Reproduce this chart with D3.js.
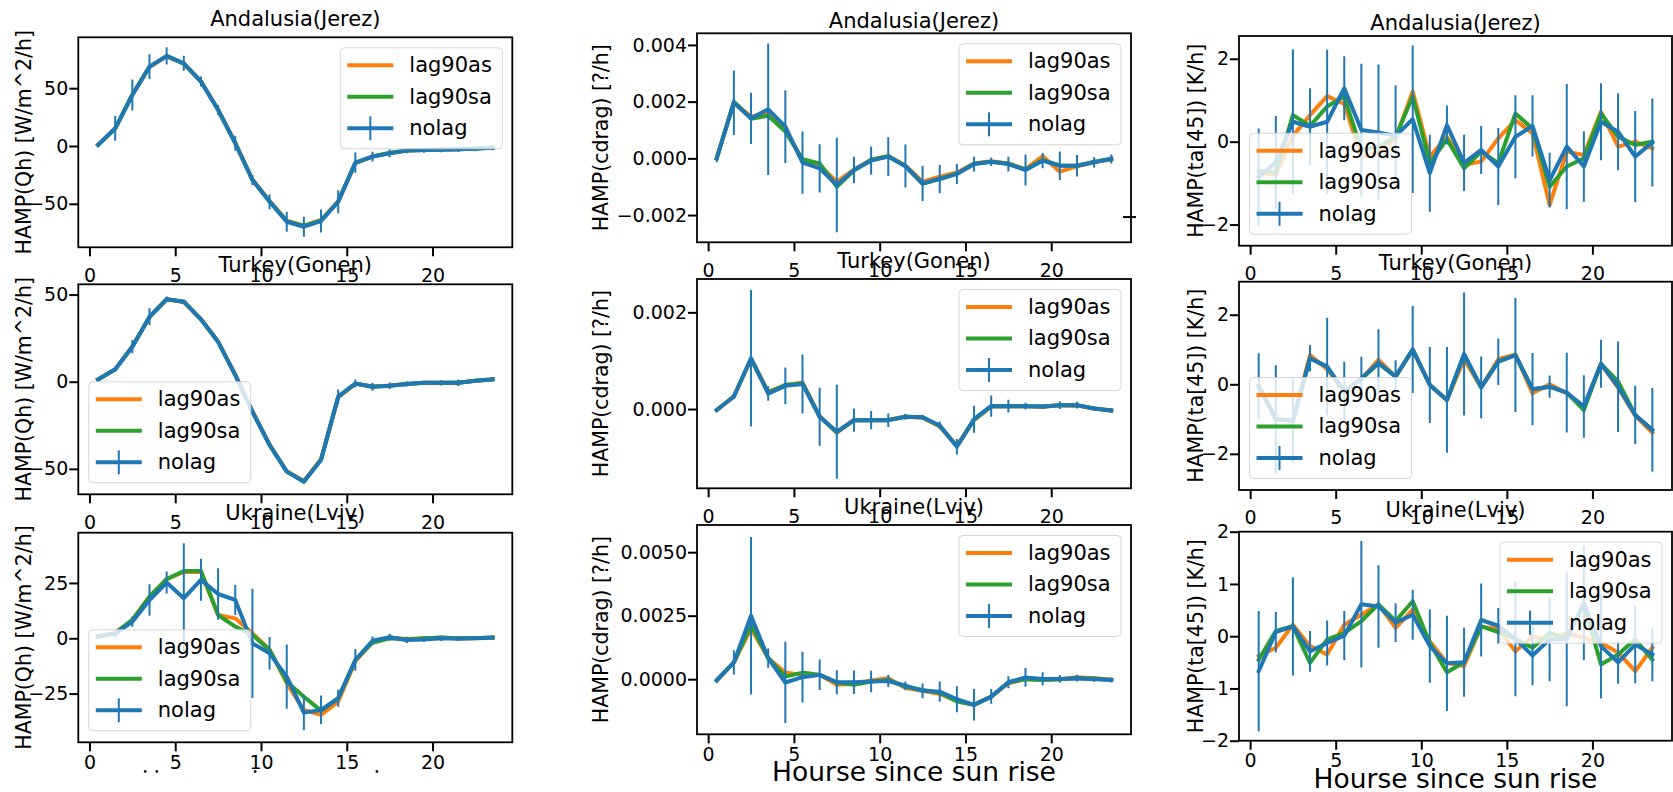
<!DOCTYPE html>
<html><head><meta charset="utf-8">
<script src="https://cdn.jsdelivr.net/npm/d3@7"></script>
<style>
body{margin:0;background:#fff;}
svg{display:block;font-family:"DejaVu Sans",sans-serif;}
</style>
</head><body>
<script>
// ---------------- DATA ----------------
const hours = [0.5,1.5,2.5,3.5,4.5,5.5,6.5,7.5,8.5,9.5,10.5,11.5,12.5,13.5,14.5,15.5,16.5,17.5,18.5,19.5,20.5,21.5,22.5,23.5];
const siteTitles = ["Andalusia(Jerez)","Turkey(Gonen)","Ukraine(Lviv)"];
const varLabels = ["HAMP(Qh) [W/m^2/h]","HAMP(cdrag) [?/h]","HAMP(ta[45]) [K/h]"];
const xAxisLabel = "Hourse since sun rise";
const seriesNames = ["lag90as","lag90sa","nolag"];
const xTicks = [0,5,10,15,20];
const xLimits = [-0.65,24.65];

// Qh
const qhJerezAs    = [1,15.0,44.5,68.2,77.5,71.2,55.9,31.5,2.8,-29.0,-47.5,-64.5,-68.8,-64.0,-47.8,-14.8,-9.0,-6.0,-3.9,-3.4,-3.1,-2.8,-2.2,-1.3];
const qhJerezSa    = [1,15.1,44.3,68.4,77.7,71.3,55.8,31.3,2.6,-29.2,-47.8,-65.0,-69.2,-64.4,-48.0,-14.6,-9.1,-6.1,-4.0,-3.4,-3.1,-2.8,-2.2,-1.3];
const qhJerezNolag = [1,15.3,44.1,68.6,77.9,71.5,55.7,31.1,2.3,-29.4,-48.2,-65.5,-69.8,-64.9,-48.2,-14.4,-9.2,-6.3,-4.0,-3.5,-3.2,-2.9,-2.3,-1.4];
const qhJerezErr   = [1.5,10.7,13.5,10.7,7.5,6.5,4.3,4.3,6.5,4.3,6.5,8.7,8.7,10,10,8.7,4.3,3.5,2.3,2.3,2.3,2.3,2.3,2.3];

const qhGonenAs    = [1.3,7.0,20.2,37.0,47.2,45.8,35.9,23.0,4.0,-17.0,-36.0,-51.4,-57.0,-44.5,-8.9,-1.2,-2.8,-2.2,-1.3,-0.6,-0.6,-0.6,0.6,1.3];
const qhGonenSa    = [1.3,7.1,20.1,37.2,47.3,45.9,35.8,22.9,3.9,-17.1,-36.2,-51.5,-57.2,-44.7,-8.7,-1.1,-2.9,-2.3,-1.3,-0.6,-0.6,-0.6,0.6,1.3];
const qhGonenNolag = [1.3,7.1,20.1,37.3,47.4,45.9,35.8,22.9,3.8,-17.2,-36.3,-51.6,-57.4,-44.9,-8.6,-1.0,-2.9,-2.3,-1.3,-0.6,-0.6,-0.6,0.6,1.3];
const qhGonenErr   = [0.5,1.5,3.8,4.8,1.5,1.2,1.5,1.0,0.8,0.6,0.6,0.8,1.0,1.0,4.2,2.3,2.3,1.9,1.5,0.8,1.5,1.9,0.6,0.6];

const qhLvivAs     = [0.8,2.3,8.3,18.8,26.7,30.0,30.0,10.5,9.0,2.3,-5.0,-20.3,-32.4,-34.6,-28.6,-10.5,-1.5,0.3,-0.3,0,0.2,0,0,0.2];
const qhLvivSa     = [0.8,2.3,8.3,18.8,26.7,30.4,30.4,10.5,5.3,1.5,-5.3,-19.6,-26.4,-32.7,-27.1,-9.8,-2.0,0,-0.5,0,0.3,0,0.1,0.3];
const qhLvivNolag  = [0.8,2.0,7.5,17.3,25.2,18.1,26.4,20.0,17.3,-2.3,-6.8,-17.3,-33.6,-32.4,-27.1,-9.8,-1.1,0.5,-0.8,-0.5,0,-0.2,0,0.3];
const qhLvivErr    = [1.0,1.5,2.3,7.1,5.0,24.8,9.5,11.6,6.8,24.7,7.4,14.5,8.0,6.5,3.8,4.9,1.9,1.5,1.5,1.2,1.2,0.9,0.8,0.8];

// cdrag
const cdJerezAs    = [0,0.00198,0.00147,0.00160,0.00100,-0.00005,-0.00025,-0.00082,-0.00040,-0.00005,0.00008,-0.00025,-0.00082,-0.00065,-0.00050,-0.00018,-0.00010,-0.00018,-0.00038,0.00008,-0.00047,-0.00028,-0.00012,-0.00004];
const cdJerezSa    = [0,0.00200,0.00140,0.00150,0.00095,-0.00003,-0.00018,-0.00100,-0.00043,-0.00005,0.00008,-0.00028,-0.00090,-0.00072,-0.00054,-0.00019,-0.00012,-0.00019,-0.00040,-0.00006,-0.00025,-0.00026,-0.00013,-0.00002];
const cdJerezNolag = [0,0.00196,0.00141,0.00173,0.00112,-0.00015,-0.00035,-0.00094,-0.00041,-0.00008,0.00006,-0.00027,-0.00088,-0.00073,-0.00055,-0.00020,-0.00012,-0.00020,-0.00041,-0.00008,-0.00026,-0.00026,-0.00014,-0.00002];
const cdJerezErr   = [0.00014,0.00114,0.0009,0.00232,0.00128,0.0011,0.00085,0.00167,0.00047,0.0005,0.00068,0.00076,0.00062,0.0005,0.00035,0.00026,0.00015,0.00026,0.00055,0.00027,0.0005,0.00038,0.00018,0.00016];

const cdGonenAs    = [-0.00002,0.00026,0.00104,0.00036,0.00049,0.00055,-0.00015,-0.00049,-0.00023,-0.00023,-0.00022,-0.00016,-0.00018,-0.00036,-0.00076,-0.00023,0.00005,0.00006,0.00006,0.00004,0.00008,0.00007,0.00001,-0.00003];
const cdGonenSa    = [-0.00002,0.00026,0.00104,0.00034,0.00050,0.00053,-0.00016,-0.00048,-0.00023,-0.00023,-0.00023,-0.00016,-0.00017,-0.00035,-0.00077,-0.00022,0.00006,0.00006,0.00006,0.00005,0.00008,0.00008,0.00001,-0.00003];
const cdGonenNolag = [-0.00002,0.00026,0.00105,0.00032,0.00048,0.00052,-0.00016,-0.00047,-0.00023,-0.00023,-0.00023,-0.00016,-0.00017,-0.00034,-0.00078,-0.00021,0.00006,0.00006,0.00006,0.00005,0.00008,0.00008,0.00001,-0.00003];
const cdGonenErr   = [0.00003,0.00005,0.00141,0.00015,0.00038,0.00061,0.0006,0.00097,0.00024,0.00019,0.00014,0.00006,0.00005,0.00008,0.00016,0.00028,0.00022,0.00013,0.00007,0.00004,0.00008,0.00007,0.00004,0.00004];

const cdLvivAs     = [-0.00005,0.00066,0.00200,0.00083,0.00026,0.00017,0.00017,-0.00022,-0.00018,-0.00005,0.00004,-0.00035,-0.00046,-0.00058,-0.00084,-0.00101,-0.00068,-0.00016,0.00001,-0.00003,0,0.00008,0.00004,-0.00002];
const cdLvivSa     = [-0.00005,0.00066,0.00214,0.00083,0.00010,0.00026,0.00017,-0.00013,-0.00022,-0.00009,-0.00003,-0.00029,-0.00042,-0.00053,-0.00088,-0.00101,-0.00070,-0.00013,0,-0.00003,0,0.00004,0.00003,-0.00003];
const cdLvivNolag  = [-0.00005,0.00066,0.00250,0.00083,-0.00013,0.00008,0.00017,-0.00012,-0.00012,-0.00009,-0.00007,-0.00026,-0.00046,-0.00049,-0.00079,-0.00101,-0.00068,-0.00012,0.00007,0.00001,0.00001,0.00004,0,-0.00003];
const cdLvivErr    = [0.0001,0.00048,0.0031,0.00038,0.0016,0.001,0.0006,0.00047,0.00046,0.00042,0.00024,0.00017,0.00029,0.0004,0.00051,0.00062,0.00029,0.00024,0.00037,0.00026,0.00015,0.00013,0.0001,0.0001];

// ta[45]
const taJerezAs    = [-0.75,-0.8,0.14,0.64,1.1,0.91,-0.36,-0.28,0.08,1.21,-0.36,0.12,-0.56,-0.48,0.08,0.52,0.2,-1.53,-0.24,-0.32,0.72,-0.12,0.0,-0.16];
const taJerezSa    = [-0.7,-0.75,0.64,0.38,0.85,1.09,-0.2,-0.12,0.12,1.09,-0.52,0.06,-0.64,-0.24,-0.52,0.68,0.32,-1.09,-0.6,-0.4,0.68,0.12,-0.08,0.0];
const taJerezNolag = [-0.85,-0.5,0.48,0.36,0.48,1.29,0.28,0.22,0.14,0.54,-0.76,0.4,-0.51,-0.2,-0.6,0.12,0.38,-0.93,-0.12,-0.6,0.48,0.24,-0.36,-0.02];
const taJerezErr   = [1.17,1.12,1.75,0.93,1.74,0.77,1.6,1.64,1.22,1.78,0.93,0.47,0.68,0.58,0.93,1.0,0.74,0.66,1.51,0.85,0.93,0.93,1.1,1.06];

const taGonenAs    = [-0.05,-1.0,-1.05,0.84,0.43,-0.2,0.15,0.7,0.22,1.0,-0.02,-0.45,0.72,-0.09,0.72,0.86,-0.26,0.0,-0.26,-0.64,0.59,-0.1,-0.9,-1.39];
const taGonenSa    = [-0.05,-1.0,-1.05,0.75,0.5,-0.22,0.15,0.6,0.22,1.0,-0.02,-0.45,0.85,-0.09,0.65,0.84,-0.14,-0.07,-0.24,-0.74,0.59,0.08,-0.88,-1.31];
const taGonenNolag = [-0.05,-1.0,-1.05,0.75,0.51,-0.21,0.17,0.62,0.22,1.0,-0.02,-0.45,0.87,-0.09,0.65,0.84,-0.14,-0.07,-0.24,-0.64,0.59,-0.07,-0.88,-1.31];
const taGonenErr   = [0.94,1.55,1.2,0.38,1.4,0.86,0.62,0.96,0.47,1.25,1.09,1.52,1.77,0.89,0.67,1.64,1.04,0.32,1.15,0.9,0.69,1.3,0.84,1.2];

const taLvivAs     = [-0.38,-0.22,0.22,-0.19,-0.35,0.22,0.41,0.61,0.16,0.51,-0.1,-0.51,-0.57,0.18,0.14,-0.29,0.0,-0.08,0.06,-0.03,-0.13,-0.31,-0.67,-0.22];
const taLvivSa     = [-0.45,0.1,0.19,-0.51,-0.06,0.06,0.29,0.61,0.29,0.67,-0.13,-0.69,-0.5,0.19,0.08,-0.05,-0.22,0.06,-0.03,0.61,-0.54,-0.35,-0.06,-0.45];
const taLvivNolag  = [-0.67,0.08,0.19,-0.29,-0.13,0.01,0.61,0.57,0.26,0.41,-0.19,-0.52,-0.5,0.31,0.2,-0.05,-0.37,-0.06,-0.06,0.64,-0.19,-0.5,-0.16,-0.35];
const taLvivErr    = [1.15,0.39,0.94,0.39,0.43,0.47,1.21,0.79,0.37,0.48,0.7,0.91,0.66,0.7,0.34,1.1,0.57,0.8,1.28,1.1,1.0,0.41,0.74,0.51];

// axis ticks and limits
const yTicksQh1 = [-50,0,50], yTicksQh2 = [-50,0,50], yTicksQh3 = [-25,0,25];
const yTicksCd1 = [-0.002,0,0.002,0.004], yTicksCd2 = [0,0.002], yTicksCd3 = [0,0.0025,0.005];
const yTicksTa1 = [-2,0,2], yTicksTa2 = [-2,0,2], yTicksTa3 = [-2,-1,0,1,2];
const yLimQh1 = [-87.6,94.0], yLimQh2 = [-64.6,55.9], yLimQh3 = [-47.0,47.7];
const yLimCd1 = [-0.00296,0.00441], yLimCd2 = [-0.00164,0.00269], yLimCd3 = [-0.00217,0.00607];
const yLimTa1 = [-2.51,2.55], yLimTa2 = [-3.04,2.95], yLimTa3 = [-2,2];
const strayTickValue = -0.00207;           // stray tick crossing right spine (cdrag, Jerez)
const clippedLabelDots = [3.25,3.93,9.66,16.76]; // remnants of a clipped label under column 1

// ---------------- LAYOUT / STYLE ----------------
const W = 1673, H = 792;
const colors = {lag90as:"#ff7f0e", lag90sa:"#2ca02c", nolag:"#1f77b4"};
const cols = [
  {L:78.3, R:512.3, ylx:23.5, rows:[[37.3,247.3,26],[284.3,494.3,271.5],[532.7,742.3,519.5]]},
  {L:697,  R:1131,  ylx:601,  rows:[[33.3,242.3,27.5],[279,488.3,267.5],[525,734.3,513.5]]},
  {L:1239, R:1672,  ylx:1196, rows:[[36,245.7,30],[281.7,490,270],[531.7,740.7,516.5]]}
];

const panels = [
  {c:0,r:0,as:qhJerezAs,sa:qhJerezSa,no:qhJerezNolag,err:qhJerezErr,ticks:yTicksQh1,lim:yLimQh1,fmt:"d",leg:"ur"},
  {c:0,r:1,as:qhGonenAs,sa:qhGonenSa,no:qhGonenNolag,err:qhGonenErr,ticks:yTicksQh2,lim:yLimQh2,fmt:"d",leg:"ll"},
  {c:0,r:2,as:qhLvivAs,sa:qhLvivSa,no:qhLvivNolag,err:qhLvivErr,ticks:yTicksQh3,lim:yLimQh3,fmt:"d",leg:"ll"},
  {c:1,r:0,as:cdJerezAs,sa:cdJerezSa,no:cdJerezNolag,err:cdJerezErr,ticks:yTicksCd1,lim:yLimCd1,fmt:".3f",leg:"ur"},
  {c:1,r:1,as:cdGonenAs,sa:cdGonenSa,no:cdGonenNolag,err:cdGonenErr,ticks:yTicksCd2,lim:yLimCd2,fmt:".3f",leg:"ur"},
  {c:1,r:2,as:cdLvivAs,sa:cdLvivSa,no:cdLvivNolag,err:cdLvivErr,ticks:yTicksCd3,lim:yLimCd3,fmt:".4f",leg:"ur"},
  {c:2,r:0,as:taJerezAs,sa:taJerezSa,no:taJerezNolag,err:taJerezErr,ticks:yTicksTa1,lim:yLimTa1,fmt:"d",leg:"ll"},
  {c:2,r:1,as:taGonenAs,sa:taGonenSa,no:taGonenNolag,err:taGonenErr,ticks:yTicksTa2,lim:yLimTa2,fmt:"d",leg:"ll"},
  {c:2,r:2,as:taLvivAs,sa:taLvivSa,no:taLvivNolag,err:taLvivErr,ticks:yTicksTa3,lim:yLimTa3,fmt:"d",leg:"ur"}
];

const FONT = '"DejaVu Sans", sans-serif';
const svg = d3.select("body").append("svg").attr("width",W).attr("height",H)
  .attr("font-family",FONT);
const defs = svg.append("defs");

const scales = {};

panels.forEach((p,i)=>{
  const col = cols[p.c];
  const [T,B,titleY] = col.rows[p.r];
  const L = col.L, R = col.R;
  const x = d3.scaleLinear().domain(xLimits).range([L,R]);
  const y = d3.scaleLinear().domain(p.lim).range([B,T]);
  scales[p.c+"_"+p.r] = {x,y};
  const g = svg.append("g");

  defs.append("clipPath").attr("id","clip"+i).append("rect")
    .attr("x",L).attr("y",T).attr("width",R-L).attr("height",B-T);
  const plot = g.append("g").attr("clip-path",`url(#clip${i})`);

  const line = d3.line().x((d,j)=>x(hours[j])).y(d=>y(d));
  [["lag90as",p.as],["lag90sa",p.sa],["nolag",p.no]].forEach(([k,v])=>{
    plot.append("path").datum(v).attr("d",line)
      .attr("fill","none").attr("stroke",colors[k]).attr("stroke-width",4)
      .attr("stroke-linejoin","round").attr("stroke-linecap","square");
  });
  plot.append("g").selectAll("line").data(p.no).join("line")
    .attr("x1",(d,j)=>x(hours[j])).attr("x2",(d,j)=>x(hours[j]))
    .attr("y1",(d,j)=>y(d-p.err[j])).attr("y2",(d,j)=>y(d+p.err[j]))
    .attr("stroke",colors.nolag).attr("stroke-width",2);

  // axes
  const xa = d3.axisBottom(x).tickValues(xTicks).tickSize(9)
    .tickPadding(p.r<2?12:4).tickFormat(d3.format("d"));
  const gx = g.append("g").attr("transform",`translate(0,${B})`).call(xa);
  const ya = d3.axisLeft(y).tickValues(p.ticks).tickSize(9).tickPadding(1)
    .tickFormat(d3.format(p.fmt));
  const gy = g.append("g").attr("transform",`translate(${L},0)`).call(ya);
  [gx,gy].forEach(a=>{
    a.select(".domain").remove();
    a.attr("font-size",19).attr("font-family",FONT);
    a.selectAll(".tick line").attr("stroke","#000").attr("stroke-width",2);
    a.selectAll(".tick text").attr("fill","#000");
  });

  // frame
  g.append("rect").attr("x",L).attr("y",T).attr("width",R-L).attr("height",B-T)
    .attr("fill","none").attr("stroke","#000").attr("stroke-width",1.8);

  // title
  g.append("text").attr("x",(L+R)/2).attr("y",titleY).attr("text-anchor","middle")
    .attr("font-size",21).text(siteTitles[p.r]);

  // y label
  g.append("text").attr("transform",`translate(${col.ylx},${(T+B)/2}) rotate(-90)`)
    .attr("text-anchor","middle").attr("dy","0.35em").attr("font-size",20.5)
    .text(varLabels[p.c]);

  // legend
  const lw = 162, lh = 101;
  const lx = p.leg==="ur" ? R-10-lw : L+10.5;
  const ly = p.leg==="ur" ? T+10.5 : B-11.5-lh;
  const lg = g.append("g").attr("transform",`translate(${lx},${ly})`);
  lg.append("rect").attr("width",lw).attr("height",lh).attr("rx",4).attr("ry",4)
    .attr("fill","#fff").attr("fill-opacity",0.8)
    .attr("stroke","#cccccc").attr("stroke-opacity",0.8).attr("stroke-width",1);
  seriesNames.forEach((s,k)=>{
    const ry = 17.5 + k*31.5;
    lg.append("line").attr("x1",7).attr("x2",53).attr("y1",ry).attr("y2",ry)
      .attr("stroke",colors[s]).attr("stroke-width",4).attr("stroke-linecap","butt");
    if(s==="nolag"){
      lg.append("line").attr("x1",30).attr("x2",30).attr("y1",ry-12).attr("y2",ry+12)
        .attr("stroke",colors[s]).attr("stroke-width",2);
    }
    lg.append("text").attr("x",69).attr("y",ry).attr("dy","0.33em")
      .attr("font-size",21).text(s);
  });

  // stray tick on right spine
  if(p.c===1 && p.r===0){
    g.append("line").attr("x1",R-8).attr("x2",R+5)
      .attr("y1",y(strayTickValue)).attr("y2",y(strayTickValue))
      .attr("stroke","#000").attr("stroke-width",2);
  }
});

// x labels (columns 2 and 3)
svg.append("text").attr("x",(cols[1].L+cols[1].R)/2).attr("y",780.5)
  .attr("text-anchor","middle").attr("font-size",26.5).text(xAxisLabel);
svg.append("text").attr("x",(cols[2].L+cols[2].R)/2).attr("y",788)
  .attr("text-anchor","middle").attr("font-size",26.5).text(xAxisLabel);

// clipped label remnants under column 1
const xs0 = scales["0_2"].x;
svg.append("g").selectAll("circle").data(clippedLabelDots).join("circle")
  .attr("cx",d=>xs0(d)).attr("cy",771.5).attr("r",1.4).attr("fill","#222");
</script>
</body></html>
